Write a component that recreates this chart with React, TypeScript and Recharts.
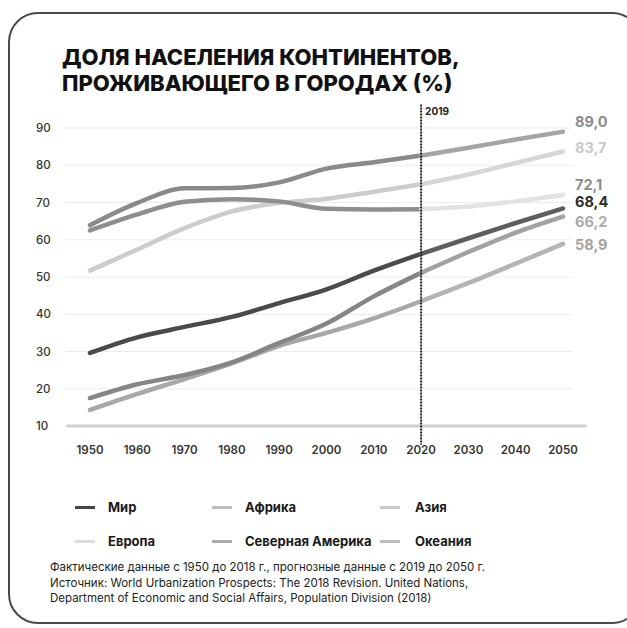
import { LineChart, Line, XAxis, YAxis, CartesianGrid, ReferenceLine } from "recharts";

const years = [1950, 1960, 1970, 1980, 1990, 2000, 2010, 2020, 2030, 2040, 2050];
const yTicks = [10, 20, 30, 40, 50, 60, 70, 80, 90];
const splitYear = 2020;

const world = [29.6, 33.8, 36.6, 39.3, 43.0, 46.7, 51.7, 56.2, 60.4, 64.5, 68.4];
const africa = [14.3, 18.6, 22.6, 26.8, 31.5, 35.0, 38.9, 43.5, 48.4, 53.6, 58.9];
const asia = [17.5, 21.2, 23.7, 27.1, 32.3, 37.5, 44.8, 51.1, 56.7, 61.9, 66.2];
const europe = [51.7, 57.4, 63.1, 67.6, 69.9, 71.0, 72.9, 74.9, 77.5, 80.6, 83.7];
const northAmerica = [63.9, 69.9, 73.8, 73.9, 75.4, 79.1, 80.8, 82.6, 84.7, 86.9, 89.0];
const oceania = [62.5, 66.8, 70.2, 70.9, 70.3, 68.3, 68.1, 68.2, 68.9, 70.3, 72.1];

const series = [
  { key: "world", name: "Мир", values: world, color: "#4a4a4a", future: "#5e5e5e", label: "#2e2e2e", labelDy: -6, legend: "#444" },
  { key: "africa", name: "Африка", values: africa, color: "#a8a8a8", future: "#b4b4b4", label: "#a2a2a2", labelDy: 1, legend: "#bdbdbd" },
  { key: "asia", name: "Азия", values: asia, color: "#858585", future: "#a2a2a2", label: "#ababab", labelDy: 5, legend: "#cacaca" },
  { key: "europe", name: "Европа", values: europe, color: "#cccccc", future: "#d6d6d6", label: "#c9c9c9", labelDy: -3, legend: "#dcdcdc" },
  { key: "na", name: "Северная Америка", values: northAmerica, color: "#8a8a8a", future: "#a4a4a4", label: "#8c8c8c", labelDy: -10, legend: "#ababab" },
  { key: "oceania", name: "Океания", values: oceania, color: "#8e8e8e", future: "#e2e2e2", label: "#8c8c8c", labelDy: -10, legend: "#bdbdbd" },
];

const data = years.map((year, i) => {
  const row: Record<string, number | null> = { year };
  series.forEach((s) => {
    row[s.key + "_a"] = year <= splitYear ? s.values[i] : null;
    row[s.key + "_f"] = year >= splitYear ? s.values[i] : null;
  });
  return row;
});

const font = "Inter, 'Open Sans', sans-serif";

const YTick = (props: any) => (
  <text x={36} y={props.y} dy={4} fontSize={11.5} fontFamily={font} fontWeight={500} fill="#333">
    {props.payload.value}
  </text>
);

const endLabel = (s: (typeof series)[number]) => (props: any) => {
  if (props.index !== years.length - 1) return null;
  return (
    <text
      x={props.x + 12}
      y={props.y + s.labelDy}
      dy={5}
      fontSize={14.5}
      fontWeight={700}
      fontFamily={font}
      fill={s.label}
    >
      {props.value.toFixed(1).replace(".", ",")}
    </text>
  );
};

export default function App() {
  return (
    <div style={{ position: "absolute", left: 0, top: 0, width: 627, height: 628, overflow: "hidden", background: "#fff", fontFamily: font }}>
      <div
        style={{
          position: "absolute",
          left: 8,
          top: 12,
          width: 630,
          height: 608,
          border: "2px solid #4a4a4a",
          borderRadius: 30,
        }}
      />
      <div style={{ position: "absolute", left: 62, top: 44, fontSize: 22, fontWeight: 800, lineHeight: "26px", color: "#111" }}>
        ДОЛЯ НАСЕЛЕНИЯ КОНТИНЕНТОВ,
        <br />
        ПРОЖИВАЮЩЕГО В ГОРОДАХ (%)
      </div>
      <div style={{ position: "absolute", left: 0, top: 0 }}>
        <LineChart width={627} height={470} data={data} margin={{ top: 128, right: 55, bottom: 0, left: 0 }}>
          <CartesianGrid horizontal vertical={false} stroke="#ececec" />
          <XAxis
            dataKey="year"
            type="number"
            domain={[1950, 2050]}
            ticks={years}
            padding={{ left: 25, right: 9 }}
            axisLine={false}
            tickLine={false}
            height={44}
            tickMargin={14}
            tick={{ fontSize: 11.5, fontWeight: 600, fill: "#333", fontFamily: font }}
          />
          <YAxis
            domain={[10, 90]}
            ticks={yTicks}
            axisLine={false}
            tickLine={false}
            width={65}
            tick={<YTick />}
          />
          <ReferenceLine
            segment={[{ x: 1945, y: 10 }, { x: 2055, y: 10 }]}
            stroke="#cfcfcf"
            strokeWidth={3}
            ifOverflow="visible"
          />
          {series.map((s) => (
            <Line
              key={s.key + "_a"}
              dataKey={s.key + "_a"}
              type="monotone"
              stroke={s.color}
              strokeWidth={4.5}
              strokeLinecap="round"
              dot={false}
              connectNulls={false}
              isAnimationActive={false}
            />
          ))}
          {series.map((s) => (
            <Line
              key={s.key + "_f"}
              dataKey={s.key + "_f"}
              type="monotone"
              stroke={s.future}
              strokeWidth={4.5}
              strokeLinecap="round"
              dot={false}
              connectNulls={false}
              isAnimationActive={false}
              label={endLabel(s)}
            />
          ))}
          <ReferenceLine
            segment={[{ x: splitYear, y: 96.3 }, { x: splitYear, y: 5 }]}
            stroke="#222"
            strokeWidth={2}
            strokeDasharray="2 1"
            ifOverflow="visible"
            label={(props: any) => (
              <text x={props.viewBox.x + 4} y={props.viewBox.y + 10} fontSize={10} fontWeight={700} fontFamily={font} fill="#222">
                2019
              </text>
            )}
          />
        </LineChart>
      </div>
      {series.map((s, i) => {
        const col = i % 3;
        const row = Math.floor(i / 3);
        const lineX = [75, 212, 380][col];
        const textX = [108, 245, 415][col];
        const cy = 507 + row * 34;
        return (
          <div key={s.key}>
            <div style={{ position: "absolute", left: lineX, top: cy - 1.5, width: 20, height: 3, background: s.legend }} />
            <div style={{ position: "absolute", left: textX, top: cy - 9, fontSize: 13, fontWeight: 700, lineHeight: "18px", color: "#1a1a1a" }}>
              {s.name}
            </div>
          </div>
        );
      })}
      <div style={{ position: "absolute", left: 50, top: 560, fontSize: 11.5, lineHeight: "15.5px", color: "#222" }}>
        Фактические данные с 1950 до 2018 г., прогнозные данные с 2019 до 2050 г.
        <br />
        Источник: World Urbanization Prospects: The 2018 Revision. United Nations,
        <br />
        Department of Economic and Social Affairs, Population Division (2018)
      </div>
    </div>
  );
}
